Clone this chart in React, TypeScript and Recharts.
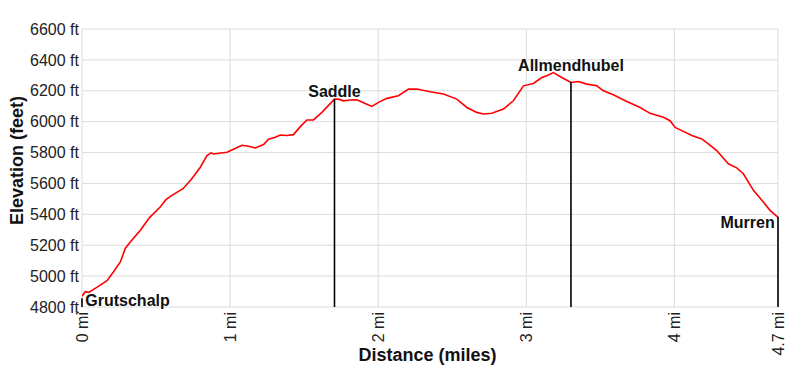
import React from 'react';
import { LineChart, Line, XAxis, YAxis, CartesianGrid, ReferenceLine, ReferenceDot } from 'recharts';

const profileMiles = [
  0, 0.022, 0.045, 0.1, 0.169, 0.213, 0.259, 0.292, 0.326, 0.394, 0.456, 0.528, 0.567, 0.607, 0.682,
  0.736, 0.799, 0.844, 0.871, 0.888, 0.979, 1.023, 1.08, 1.125, 1.17, 1.226, 1.26, 1.305, 1.339, 1.384,
  1.428, 1.474, 1.519, 1.563, 1.62, 1.705, 1.732, 1.766, 1.811, 1.856, 1.912, 1.957, 2.002, 2.059, 2.137,
  2.205, 2.261, 2.351, 2.441, 2.531, 2.599, 2.666, 2.711, 2.767, 2.846, 2.913, 2.981, 3.048, 3.105, 3.139,
  3.183, 3.24, 3.301, 3.352, 3.409, 3.476, 3.521, 3.588, 3.679, 3.769, 3.836, 3.926, 3.971, 4.005, 4.05,
  4.118, 4.185, 4.23, 4.286, 4.365, 4.421, 4.466, 4.534, 4.601, 4.646, 4.691, 4.7,
];
const profileFeet = [
  4870, 4899, 4895, 4927, 4970, 5028, 5092, 5179, 5221, 5297, 5379, 5447, 5495, 5523, 5566,
  5624, 5705, 5781, 5798, 5791, 5802, 5821, 5847, 5841, 5830, 5852, 5886, 5899, 5914, 5910,
  5916, 5968, 6011, 6011, 6060, 6146, 6146, 6135, 6140, 6142, 6118, 6099, 6125, 6151, 6168,
  6211, 6211, 6194, 6179, 6146, 6092, 6060, 6050, 6054, 6082, 6135, 6232, 6247, 6286, 6297,
  6318, 6286, 6254, 6260, 6243, 6232, 6200, 6174, 6131, 6092, 6054, 6028, 6006, 5963, 5942,
  5910, 5888, 5856, 5813, 5727, 5701, 5663, 5555, 5480, 5426, 5389, 5382,
];

const markerNames = ['Grutschalp', 'Saddle', 'Allmendhubel', 'Murren'];
const markerMiles = [0, 1.705, 3.302, 4.7];
const markerFeet = [4856, 6146, 6258, 5384];

const xTicks = [0, 1, 2, 3, 4, 4.7];
const yTicks = [4800, 5000, 5200, 5400, 5600, 5800, 6000, 6200, 6400, 6600];
const xTitle = 'Distance (miles)';
const yTitle = 'Elevation (feet)';

const W = 800;
const H = 373;
const MARGIN = { top: 29, right: 22, left: 0, bottom: 0 };
const Y_AXIS_W = 82;
const X_AXIS_H = 66;
const PLOT_BOTTOM = H - MARGIN.bottom - X_AXIS_H;
const FONT = 'Arial, "Liberation Sans", sans-serif';

const data = profileMiles.map((d, i) => ({ d, e: profileFeet[i] }));

const localMax = (d: number) => {
  let m = -Infinity;
  profileMiles.forEach((x, i) => {
    if (Math.abs(x - d) <= 0.15) m = Math.max(m, profileFeet[i]);
  });
  return m;
};

const fmtMiles = (v: number) => `${v} mi`;
const fmtFeet = (v: number) => `${v} ft`;

const XTick = (props: any) => {
  const { x, y, payload } = props;
  return (
    <text
      transform={`translate(${x + 5.8},${y + 5}) rotate(-90)`}
      textAnchor="end"
      fontSize={16}
      fontFamily={FONT}
      fill="#222"
    >
      {fmtMiles(payload.value)}
    </text>
  );
};

const XTitle = (props: any) => {
  const vb = props.viewBox || {};
  return (
    <text
      x={vb.x + vb.width / 2 - 2.5}
      y={vb.y + 54}
      textAnchor="middle"
      fontSize={18}
      fontWeight="bold"
      fontFamily={FONT}
      fill="#111"
    >
      {xTitle}
    </text>
  );
};

const YTitle = (props: any) => {
  const vb = props.viewBox || {};
  const cx = vb.x + 22.7;
  const cy = vb.y + vb.height / 2 - 7.5;
  return (
    <text
      transform={`translate(${cx},${cy}) rotate(-90)`}
      textAnchor="middle"
      fontSize={18}
      fontWeight="bold"
      fontFamily={FONT}
      fill="#111"
    >
      {yTitle}
    </text>
  );
};

const labelShape = (idx: number) => (p: any) => {
  const name = markerNames[idx];
  const last = markerNames.length - 1;
  const common = { fontSize: 16, fontWeight: 'bold', fontFamily: FONT, fill: '#111' } as any;
  if (idx === 0) {
    const by = Math.min(p.cy + 11, PLOT_BOTTOM - 1);
    return (
      <text x={p.cx + 3.3} y={by} textAnchor="start" {...common}>
        {name}
      </text>
    );
  }
  if (idx === last) {
    const by = Math.min(p.cy + 11, PLOT_BOTTOM - 1);
    return (
      <text x={p.cx - 3.3} y={by} textAnchor="end" {...common}>
        {name}
      </text>
    );
  }
  return (
    <text x={p.cx} y={p.cy - 2} textAnchor="middle" {...common}>
      {name}
    </text>
  );
};

export default function App() {
  return (
    <div style={{ position: 'absolute', left: 0, top: 0, background: '#fff' }}>
      <LineChart width={W} height={H} data={data} margin={MARGIN}>
        <CartesianGrid stroke="#dcdcdc" strokeWidth={1} />
        <XAxis
          type="number"
          dataKey="d"
          domain={[0, 4.7]}
          ticks={xTicks}
          interval={0}
          axisLine={false}
          tickLine={false}
          tickSize={0}
          tickMargin={0}
          height={X_AXIS_H}
          tick={<XTick />}
          allowDataOverflow
          label={(p: any) => <XTitle {...p} />}
        />
        <YAxis
          type="number"
          domain={[4800, 6600]}
          ticks={yTicks}
          interval={0}
          axisLine={false}
          tickLine={false}
          tickSize={0}
          tickMargin={3}
          width={Y_AXIS_W}
          tickFormatter={fmtFeet}
          tick={{ fontSize: 16, fontFamily: FONT, fill: '#222' }}
          allowDataOverflow
          label={(p: any) => <YTitle {...p} />}
        />
        <Line
          type="linear"
          dataKey="e"
          stroke="#ff0000"
          strokeWidth={1.6}
          dot={false}
          activeDot={false}
          isAnimationActive={false}
        />
        {markerMiles.map((m, i) => (
          <ReferenceLine
            key={`ml-${i}`}
            segment={[
              { x: m, y: 4800 },
              { x: m, y: markerFeet[i] },
            ]}
            stroke="#000"
            strokeWidth={1.6}
            ifOverflow="visible"
          />
        ))}
        {markerMiles.map((m, i) => (
          <ReferenceDot
            key={`md-${i}`}
            x={m}
            y={i === 0 || i === markerMiles.length - 1 ? markerFeet[i] : localMax(m)}
            r={0}
            ifOverflow="visible"
            shape={labelShape(i)}
          />
        ))}
      </LineChart>
    </div>
  );
}
